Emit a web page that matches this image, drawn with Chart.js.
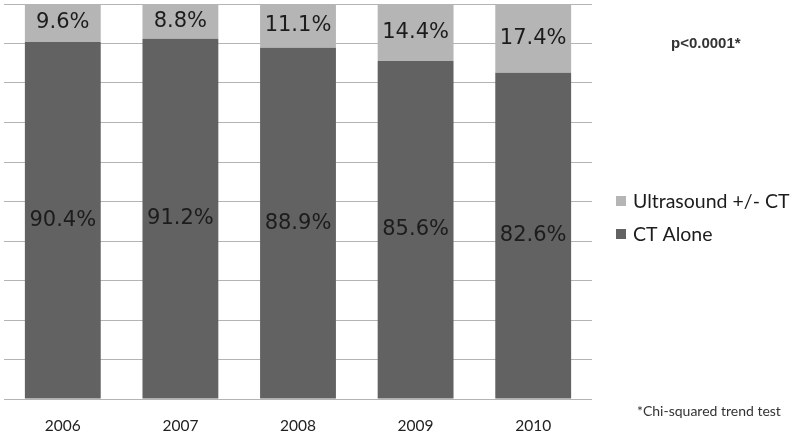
<!DOCTYPE html>
<html><head><meta charset="utf-8">
<script src="https://cdn.jsdelivr.net/npm/chart.js@4"></script>
<style>html,body{margin:0;padding:0;background:#fff}#w{width:800px;height:437px}</style>
</head><body><div id="w"><canvas id="c"></canvas></div>
<script>
const years = ['2006','2007','2008','2009','2010'];
const ctAlone = [90.4, 91.2, 88.9, 85.6, 82.6];
const ultrasound = [9.6, 8.8, 11.1, 14.4, 17.4];
const seriesLabels = ['CT Alone', 'Ultrasound +/- CT'];
const pText = 'p<0.0001*';
const footText = '*Chi-squared trend test';

const DARK = '#626262', LIGHT = '#b5b5b5';

const extras = {
  id: 'extras',
  afterDatasetsDraw(chart) {
    const ctx = chart.ctx;
    ctx.save();
    ctx.fillStyle = '#1c1c1c';
    ctx.font = '21px "DejaVu Sans"';
    ctx.textAlign = 'center';
    ctx.textBaseline = 'middle';
    chart.data.datasets.forEach((ds, di) => {
      const meta = chart.getDatasetMeta(di);
      meta.data.forEach((bar, i) => {
        const y = (bar.y + bar.base) / 2;
        ctx.fillText(ds.data[i].toFixed(1) + '%', bar.x, y);
      });
    });
    const items = [chart.data.datasets[1], chart.data.datasets[0]];
    ctx.textAlign = 'left';
    ctx.font = '19.5px Lato';
    items.forEach((ds, k) => {
      const y = 201 + k * 33;
      ctx.fillStyle = ds.backgroundColor;
      ctx.fillRect(616, y - 5, 10, 10);
      ctx.fillStyle = '#1c1c1c';
      ctx.fillText(ds.label, 633, y + 1);
    });
    ctx.font = 'bold 15px "Liberation Sans"';
    ctx.fillStyle = '#333';
    ctx.fillText(pText, 671, 44);
    ctx.font = '14px Lato';
    ctx.fillText(footText, 637, 411);
    ctx.restore();
  }
};

new Chart(document.getElementById('c'), {
  type: 'bar',
  data: {
    labels: years,
    datasets: [
      { label: seriesLabels[0], data: ctAlone, backgroundColor: DARK },
      { label: seriesLabels[1], data: ultrasound, backgroundColor: LIGHT }
    ]
  },
  options: {
    responsive: true,
    maintainAspectRatio: false,
    animation: false,
    events: [],
    layout: { padding: { top: 4, left: 4, right: 208, bottom: 0 } },
    plugins: { legend: { display: false }, tooltip: { enabled: false } },
    datasets: { bar: { categoryPercentage: 1, barPercentage: 0.645 } },
    scales: {
      x: {
        stacked: true,
        grid: { display: false },
        border: { display: false },
        ticks: { color: '#222', font: { family: 'Lato', size: 15.5 }, padding: 10 },
        afterFit(s) { s.height = 38; }
      },
      y: {
        stacked: true,
        min: 0, max: 100,
        ticks: { display: false, stepSize: 10 },
        border: { display: false },
        grid: { color: '#b4b4b4', lineWidth: 1, drawTicks: false },
        afterFit(s) { s.width = 0; }
      }
    }
  },
  plugins: [extras]
});
</script>
</body></html>
